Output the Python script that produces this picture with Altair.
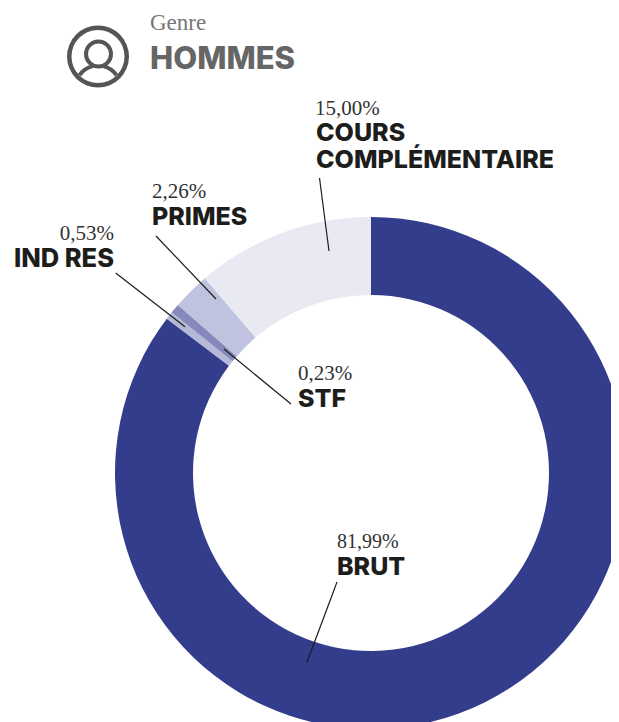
import altair as alt
import pandas as pd

categories = ["BRUT", "STF", "IND RES", "PRIMES", "COURS COMPLÉMENTAIRE"]
# angular share of the ring, as drawn in the picture
drawn_share = [85.3, 0.5, 0.6, 2.36, 11.24]
printed_pct = ["81,99%", "0,23%", "0,53%", "2,26%", "15,00%"]
slice_colors = ["#343d8c", "#b5b8d6", "#8689bb", "#c0c3df", "#e8e9f3"]

INK = "#1d1d1b"
SERIF = "Liberation Serif"
SANS = "Inter"
OX, OY = 8, 8  # page margin


def px(v):
    return alt.value(v - OX)


def py(v):
    return alt.value(v - OY)


donut_df = pd.DataFrame({"cat": categories, "share": drawn_share, "idx": range(5)})
base = alt.Chart(donut_df)

donut = base.mark_arc(radius=256, radius2=178).encode(
    theta=alt.Theta("share:Q", stack=True, scale=alt.Scale(range=[0, 6.283185307])),
    order=alt.Order("idx:Q"),
    color=alt.Color("cat:N", scale=alt.Scale(domain=categories, range=slice_colors), legend=None),
    x=px(371),
    y=py(473),
)

one = pd.DataFrame({"a": [0]})


def label(text, x, y, size, font, color=INK, weight="normal", align="left"):
    return alt.Chart(one).mark_text(
        text=text, font=font, fontSize=size, color=color, fontWeight=weight, align=align, baseline="alphabetic"
    ).encode(x=px(x), y=py(y))


def leader(x1, y1, x2, y2):
    return alt.Chart(one).mark_rule(color=INK, strokeWidth=1.2).encode(x=px(x1), y=py(y1), x2=px(x2), y2=py(y2))


def ring(cx, cy, r, r2, t1=0.0, t2=6.283185307, color="#555555"):
    return alt.Chart(one).mark_arc(radius=r, radius2=r2, theta=t1, theta2=t2, color=color).encode(x=px(cx), y=py(cy))


layers = [
    donut,
    leader(319.5, 178, 329, 251),
    leader(156, 236, 216, 299),
    leader(115.7, 273, 185, 326.7),
    leader(224, 349, 291, 404),
    leader(337, 582, 306.7, 663),
    ring(98, 56.5, 31, 26.5),
    ring(98.5, 54, 14.5, 10.5),
    ring(98, 88, 24.5, 20.5, 5.32, 6.04),
    ring(98, 88, 24.5, 20.5, 0.24, 0.96),
    label("Genre", 150, 30, 23, SERIF, "#777777"),
    label("HOMMES", 150, 68.5, 31, SANS, "#666666", 800),
    label(printed_pct[4], 315, 115, 21, SERIF, "#333333"),
    label("COURS", 316, 141, 25, SANS, INK, 800),
    label("COMPLÉMENTAIRE", 316, 168, 25, SANS, INK, 800),
    label(printed_pct[3], 152, 198, 21, SERIF, "#333333"),
    label(categories[3], 152, 225, 25, SANS, INK, 800),
    label(printed_pct[2], 114, 240, 21, SERIF, "#333333", align="right"),
    label(categories[2], 114, 267, 25.5, SANS, INK, 800, align="right"),
    label(printed_pct[1], 298, 380, 21, SERIF, "#333333"),
    label(categories[1], 298, 407, 25, SANS, INK, 800),
    label(printed_pct[0], 337, 548, 20, SERIF, "#333333"),
    label(categories[0], 337, 575, 25, SANS, INK, 800),
]

chart = (
    alt.layer(*layers)
    .properties(
        width=603,
        height=714,
        padding=0,
        background="white",
        autosize=alt.AutoSizeParams(type="none"),
    )
    .configure_view(stroke="transparent", strokeWidth=0)
)
chart.save("out.html", embed_options={"renderer": "svg", "actions": False})
